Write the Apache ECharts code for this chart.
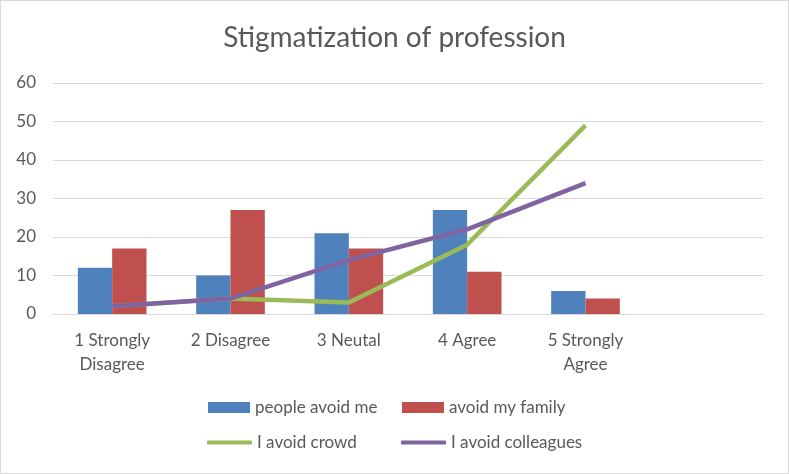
<!DOCTYPE html>
<html><head><meta charset="utf-8">
<script src="https://cdn.jsdelivr.net/npm/echarts@6/dist/echarts.min.js"></script>
<style>html,body{margin:0;padding:0;background:#fff}#c{width:789px;height:474px;box-sizing:border-box;border:1px solid #d9d9d9}</style>
</head><body><div id="c"></div>
<script>
const categories = ['1 Strongly\nDisagree', '2 Disagree', '3 Neutal', '4 Agree', '5 Strongly\nAgree', ''];
const peopleAvoidMe = [12, 10, 21, 27, 6, null];
const avoidMyFamily = [17, 27, 17, 11, 4, null];
const iAvoidCrowd = [2, 4, 3, 18, 49, null];
const iAvoidColleagues = [2, 4, 14, 22, 34, null];
const yTicks = [0, 10, 20, 30, 40, 50, 60];

const FONT = 'Lato';
const TXT = {fontFamily: FONT, fontSize: 17, color: '#595959'};
function leg(name, left, top, bar) {
  return {data: [name], left: left, top: top, itemWidth: bar ? 42 : 45, itemHeight: bar ? 11 : 4,
    icon: bar ? 'rect' : 'roundRect', itemGap: 0, padding: 0, textStyle: TXT};
}
const chart = echarts.init(document.getElementById('c'), null, {renderer: 'canvas'});
chart.setOption({
  animation: false,
  title: {text: 'Stigmatization of profession', left: 'center', top: 18,
    textStyle: {fontFamily: FONT, fontSize: 28, fontWeight: 'normal', color: '#595959'}},
  grid: {left: 52, right: 25, top: 82, bottom: 159},
  legend: [
    leg('people avoid me', 207, 398, true),
    leg('avoid my family', 401, 398, true),
    leg('I avoid crowd', 206, 433, false),
    leg('I avoid colleagues', 400, 433, false)
  ],
  xAxis: {type: 'category', data: categories,
    axisLine: {lineStyle: {color: '#d9d9d9', width: 1}}, axisTick: {show: false},
    axisLabel: Object.assign({margin: 15, lineHeight: 24, interval: 0}, TXT)},
  yAxis: {type: 'value', min: yTicks[0], max: yTicks[yTicks.length - 1], interval: 10,
    axisLine: {show: false}, axisTick: {show: false},
    splitLine: {lineStyle: {color: '#d9d9d9', width: 1}},
    axisLabel: Object.assign({margin: 17}, TXT)},
  series: [
    {name: 'people avoid me', type: 'bar', data: peopleAvoidMe, barGap: '0%', barCategoryGap: '42%',
      itemStyle: {color: '#4F81BD'}},
    {name: 'avoid my family', type: 'bar', data: avoidMyFamily, itemStyle: {color: '#C0504D'}},
    {name: 'I avoid crowd', type: 'line', data: iAvoidCrowd, showSymbol: false, symbol: 'none',
      lineStyle: {color: '#9BBB59', width: 4.5}, itemStyle: {color: '#9BBB59'}},
    {name: 'I avoid colleagues', type: 'line', data: iAvoidColleagues, showSymbol: false, symbol: 'none',
      lineStyle: {color: '#8064A2', width: 4.5}, itemStyle: {color: '#8064A2'}}
  ]
});
</script></body></html>
